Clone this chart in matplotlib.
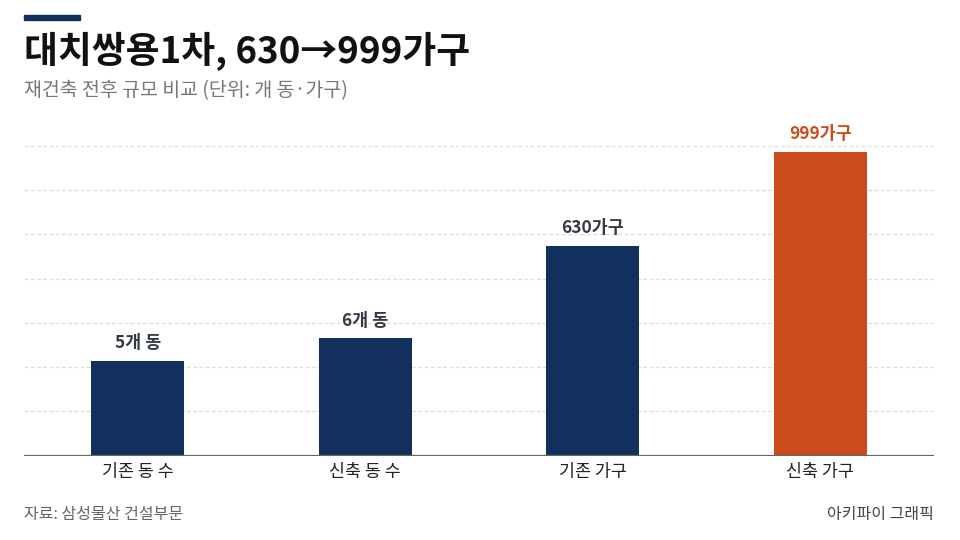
import matplotlib
matplotlib.use("Agg")
import matplotlib.pyplot as plt
import numpy as np

plt.rcParams['font.family'] = ['Noto Sans CJK KR', 'DejaVu Sans']

# data
categories = ['기존 동 수', '신축 동 수', '기존 가구', '신축 가구']
values = [5, 6, 630, 999]
value_labels = ['5개 동', '6개 동', '630가구', '999가구']
# bar heights as drawn in the original (mixed units, in gridline steps)
bar_heights = [2.15, 2.65, 4.75, 6.87]

navy = '#11305e'
orange = '#cc4b1c'
colors = [navy, navy, navy, orange]
label_colors = ['#333a45', '#333a45', '#333a45', orange]

fig = plt.figure(figsize=(9.6, 5.4), dpi=100)
fig.patch.set_facecolor('white')

# axes placed in pixel terms: x 24..934, y baseline 455.7, top gridline 146
W, H = 960, 540
left, right = 24, 934
base, top = 455.7, 146.0
ax = fig.add_axes([left / W, 1 - base / H, (right - left) / W, (base - top) / H])

x = np.arange(len(categories))
ax.bar(x, bar_heights, width=0.41, color=colors, zorder=3)
ax.set_xlim(-0.5, 3.5)
ax.set_ylim(0, 7)

for i in range(1, 8):
    ax.axhline(i, color='#dddddd', lw=0.9, ls=(0, (3, 2)), zorder=1)
ax.axhline(0, color='#666666', lw=1.6, zorder=4)

for xi, h, lab, c in zip(x, bar_heights, value_labels, label_colors):
    ax.text(xi, h + 0.2, lab, ha='center', va='bottom', fontsize=12.5,
            fontweight='semibold', color=c, clip_on=False)

for s in ax.spines.values():
    s.set_visible(False)
ax.set_yticks([])
ax.set_xticks(x)
ax.set_xticklabels(categories, fontsize=12.5, color='#222222')
ax.tick_params(axis='x', length=0, pad=5)

# header
fig.patches.append(plt.Rectangle((24 / W, 1 - 20 / H), 56 / W, 5 / H,
                                 transform=fig.transFigure, color=navy))
fig.text(24 / W, 1 - 51 / H, '대치쌍용1차, 630→999가구', fontsize=26.5,
         fontweight='bold', color='#111111', va='center', ha='left')
fig.text(24 / W, 1 - 91 / H, '재건축 전후 규모 비교 (단위: 개 동·가구)',
         fontsize=14, color='#777777', va='center', ha='left')

# footer
fig.text(24 / W, 1 - 515 / H, '자료: 삼성물산 건설부문', fontsize=11.5,
         color='#666666', va='center', ha='left')
fig.text(934 / W, 1 - 515 / H, '아키파이 그래픽', fontsize=11.5,
         color='#444444', va='center', ha='right')

fig.savefig('out.png', dpi=100, facecolor='white')
